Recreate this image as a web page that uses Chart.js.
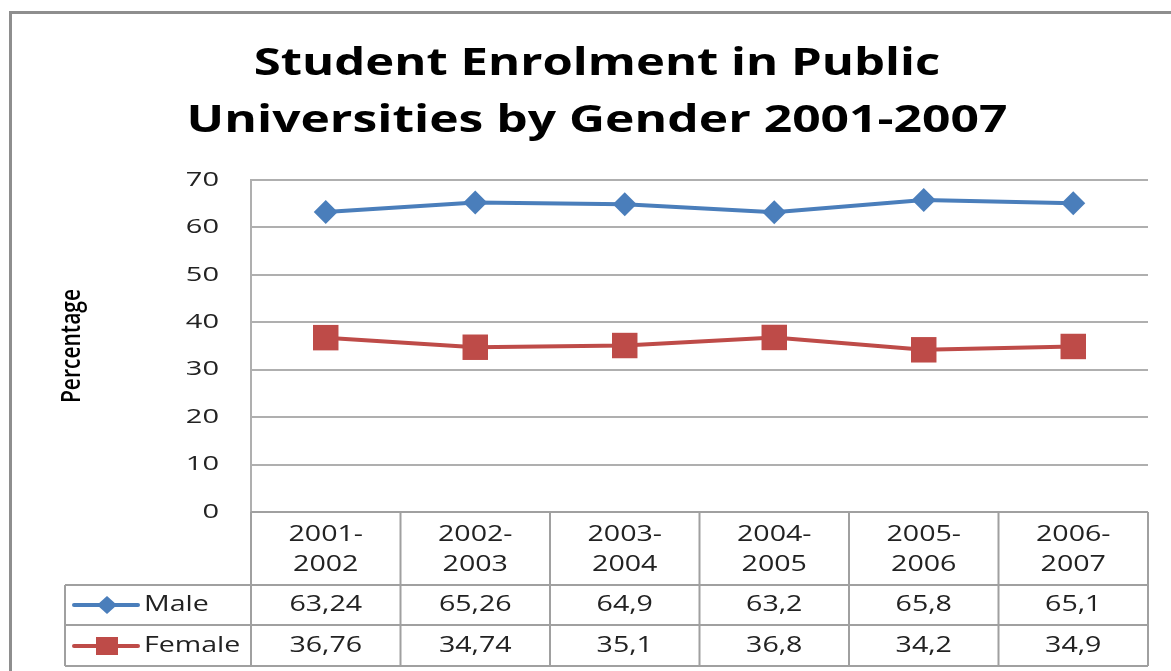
<!DOCTYPE html>
<html>
<head>
<meta charset="utf-8">
<script src="https://cdn.jsdelivr.net/npm/chart.js@4.4.0/dist/chart.umd.min.js"></script>
<style>
html,body{margin:0;padding:0;background:#fff;}
#wrap{width:1171px;height:671px;position:relative;}
</style>
</head>
<body>
<div id="wrap"><canvas id="c"></canvas></div>
<script>
const titleLines = ["Student Enrolment in Public", "Universities by Gender 2001-2007"];
const categories = [["2001-","2002"],["2002-","2003"],["2003-","2004"],["2004-","2005"],["2005-","2006"],["2006-","2007"]];
const maleValues = [63.24, 65.26, 64.9, 63.2, 65.8, 65.1];
const femaleValues = [36.76, 34.74, 35.1, 36.8, 34.2, 34.9];
const seriesNames = ["Male", "Female"];
const yTicks = [0, 10, 20, 30, 40, 50, 60, 70];
const yAxisTitle = "Percentage";

const BLUE = "#4A7EBB";
const RED = "#BE4B48";
const GRID = "#AFAFAF";
const TABLE_LINE = "#A0A0A0";
const TEXT = "#222";
const FONT = "'Open Sans', 'DejaVu Sans', sans-serif";
const STRETCH = 1.36;

const fmt = v => String(v).replace('.', ',');

function drawText(ctx, text, x, y, align, sx) {
  ctx.save();
  ctx.translate(x, y);
  ctx.scale(sx, 1);
  ctx.textAlign = align;
  ctx.fillText(text, 0, 0);
  ctx.restore();
}

const framePlugin = {
  id: 'frame',
  beforeDraw(chart) {
    const ctx = chart.ctx;
    ctx.save();
    ctx.fillStyle = '#fff';
    ctx.fillRect(0, 0, chart.width, chart.height);
    ctx.strokeStyle = '#8E8E8E';
    ctx.lineWidth = 3;
    ctx.strokeRect(10.5, 12.5, chart.width + 20, chart.height + 20);
    ctx.restore();
  }
};

const textPlugin = {
  id: 'texts',
  afterDraw(chart) {
    const ctx = chart.ctx;
    const ys = chart.scales.y;
    const area = chart.chartArea;
    ctx.save();
    // title
    ctx.fillStyle = '#000';
    ctx.font = `bold 38px ${FONT}`;
    ctx.textBaseline = 'alphabetic';
    const cx = 597;
    drawText(ctx, titleLines[0], cx, 75, 'center', 1.29);
    drawText(ctx, titleLines[1], cx, 132, 'center', 1.31);
    // y axis title (rotated, thickened like the reference)
    ctx.font = `600 21px ${FONT}`;
    ctx.textBaseline = 'middle';
    ctx.save();
    ctx.translate(72, (ys.top + ys.bottom) / 2);
    ctx.rotate(-Math.PI / 2);
    ctx.scale(1, 1.3);
    ctx.textAlign = 'center';
    ctx.fillText(yAxisTitle, 0, 0);
    ctx.restore();
    // y tick labels
    ctx.fillStyle = TEXT;
    ctx.font = `20px ${FONT}`;
    ctx.textBaseline = 'middle';
    yTicks.forEach(v => drawText(ctx, String(v), area.left - 32, ys.getPixelForValue(v), 'right', 1.45));
    ctx.restore();
  }
};

const tablePlugin = {
  id: 'dataTable',
  afterDraw(chart) {
    const ctx = chart.ctx;
    const xs = chart.scales.x;
    const area = chart.chartArea;
    const n = categories.length;
    const step = xs.getPixelForValue(1) - xs.getPixelForValue(0);
    const bounds = [];
    for (let i = 0; i <= n; i++) bounds.push(xs.getPixelForValue(0) - step / 2 + i * step);
    const yTop = area.bottom;
    const yHead = yTop + 73;
    const yRow1 = yHead + 40;
    const yRow2 = yRow1 + 41;
    const legLeft = 65;

    ctx.save();
    ctx.strokeStyle = TABLE_LINE;
    ctx.lineWidth = 2;
    ctx.beginPath();
    ctx.moveTo(bounds[0], yTop); ctx.lineTo(bounds[n], yTop);
    [yHead, yRow1, yRow2].forEach(y => { ctx.moveTo(legLeft, y); ctx.lineTo(bounds[n], y); });
    bounds.forEach(x => { ctx.moveTo(x, yTop); ctx.lineTo(x, yRow2); });
    ctx.moveTo(legLeft, yHead); ctx.lineTo(legLeft, yRow2);
    ctx.stroke();

    ctx.fillStyle = TEXT;
    ctx.font = `21px ${FONT}`;
    ctx.textBaseline = 'middle';
    categories.forEach((lab, i) => {
      const cx = xs.getPixelForValue(i);
      drawText(ctx, lab[0], cx, yTop + 23, 'center', STRETCH);
      drawText(ctx, lab[1], cx, yTop + 53, 'center', STRETCH);
    });
    const rows = [[maleValues, yHead + 20], [femaleValues, yRow1 + 21]];
    rows.forEach(([vals, y]) => {
      vals.forEach((v, i) => drawText(ctx, fmt(v), xs.getPixelForValue(i), y, 'center', STRETCH));
    });
    const keys = [[BLUE, 'diamond', seriesNames[0], yHead + 20], [RED, 'square', seriesNames[1], yRow1 + 21]];
    keys.forEach(([col, shape, name, y]) => {
      ctx.strokeStyle = col;
      ctx.lineWidth = 4;
      ctx.lineCap = 'round';
      ctx.beginPath(); ctx.moveTo(74, y); ctx.lineTo(138, y); ctx.stroke();
      ctx.fillStyle = col;
      const kx = 107;
      if (shape === 'diamond') {
        ctx.beginPath();
        ctx.moveTo(kx - 10, y); ctx.lineTo(kx, y - 9); ctx.lineTo(kx + 10, y); ctx.lineTo(kx, y + 9);
        ctx.closePath(); ctx.fill();
      } else {
        ctx.fillRect(kx - 11, y - 9, 22, 18);
      }
      ctx.fillStyle = TEXT;
      drawText(ctx, name, 144, y, 'left', STRETCH);
    });
    ctx.restore();
  }
};

new Chart(document.getElementById('c'), {
  type: 'line',
  data: {
    labels: categories.map(c => c.join('')),
    datasets: [
      {
        label: seriesNames[0], data: maleValues,
        borderColor: BLUE, backgroundColor: BLUE, borderWidth: 4,
        pointStyle: 'rectRot', pointRadius: 12, pointHoverRadius: 12,
        pointBorderWidth: 0, pointBackgroundColor: BLUE, tension: 0
      },
      {
        label: seriesNames[1], data: femaleValues,
        borderColor: RED, backgroundColor: RED, borderWidth: 4,
        pointStyle: 'rect', pointRadius: 18, pointHoverRadius: 18,
        pointBorderWidth: 0, pointBackgroundColor: RED, tension: 0
      }
    ]
  },
  options: {
    responsive: true,
    maintainAspectRatio: false,
    animation: false,
    layout: { padding: { left: 40, right: 23, top: 180, bottom: 159 } },
    plugins: {
      legend: { display: false },
      tooltip: { enabled: false },
      title: { display: false }
    },
    scales: {
      x: { display: false, offset: true },
      y: {
        min: 0, max: 70,
        afterBuildTicks(scale) { scale.ticks = yTicks.map(v => ({ value: v })); },
        afterFit(scale) { scale.width = 211; },
        grid: { color: GRID, lineWidth: 2, drawTicks: false },
        border: { color: GRID, width: 2 },
        ticks: { display: false },
        title: { display: false }
      }
    }
  },
  plugins: [framePlugin, textPlugin, tablePlugin]
});
</script>
</body>
</html>
